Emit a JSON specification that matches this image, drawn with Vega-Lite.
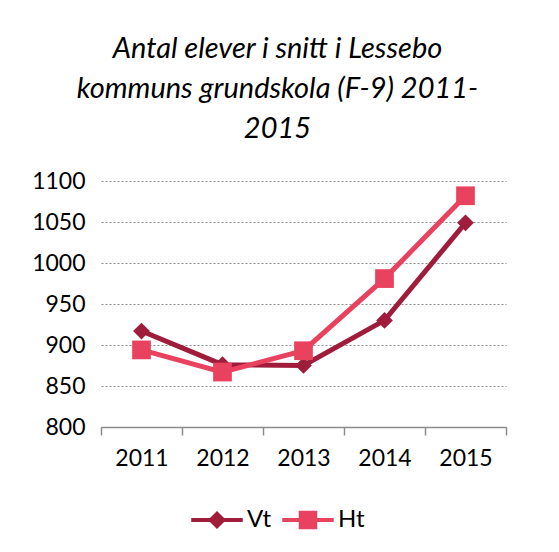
{
  "$schema": "https://vega.github.io/schema/vega-lite/v6.json",
  "width": 405,
  "height": 246,
  "autosize": {"type": "none"},
  "padding": {"left": 101, "top": 181, "right": 53, "bottom": 125},
  "background": "white",
  "config": {"view": {"stroke": null}},
  "title": {
    "text": ["Antal elever i snitt i Lessebo", "kommuns grundskola (F-9) 2011-", "2015"],
    "font": "Lato",
    "fontStyle": "italic",
    "fontWeight": "normal",
    "fontSize": 29,
    "lineHeight": 40,
    "color": "#000000",
    "anchor": "middle",
    "dx": -26,
    "offset": 26
  },
  "data": {
    "values": [
      {"year": "2011", "series": "Vt", "value": 917},
      {"year": "2012", "series": "Vt", "value": 876},
      {"year": "2013", "series": "Vt", "value": 875},
      {"year": "2014", "series": "Vt", "value": 930},
      {"year": "2015", "series": "Vt", "value": 1049},
      {"year": "2011", "series": "Ht", "value": 894},
      {"year": "2012", "series": "Ht", "value": 867},
      {"year": "2013", "series": "Ht", "value": 893},
      {"year": "2014", "series": "Ht", "value": 981},
      {"year": "2015", "series": "Ht", "value": 1082}
    ]
  },
  "encoding": {
    "x": {
      "field": "year",
      "type": "ordinal",
      "scale": {"type": "band", "paddingInner": 0, "paddingOuter": 0},
      "axis": {
        "title": null,
        "labelAngle": 0,
        "labelFont": "Lato",
        "labelFontSize": 23,
        "labelColor": "#000000",
        "labelPadding": 12,
        "tickBand": "extent",
        "tickSize": 8,
        "tickColor": "#8c8c8c",
        "tickWidth": 1.5,
        "domainColor": "#8c8c8c",
        "domainWidth": 1.5,
        "grid": false
      }
    },
    "y": {
      "field": "value",
      "type": "quantitative",
      "scale": {"domain": [800, 1100], "nice": false, "zero": false},
      "axis": {
        "title": null,
        "values": [800, 850, 900, 950, 1000, 1050, 1100],
        "format": "d",
        "labelFont": "Lato",
        "labelFontSize": 23,
        "labelColor": "#000000",
        "labelPadding": 16,
        "ticks": false,
        "domain": false,
        "grid": true,
        "gridColor": "#8c8c8c",
        "gridDash": [2, 2],
        "gridWidth": 1.2
      }
    },
    "color": {
      "field": "series",
      "type": "nominal",
      "scale": {"domain": ["Vt", "Ht"], "range": ["#A01C3B", "#E8425F"]},
      "legend": {
        "orient": "none",
        "legendX": 90,
        "legendY": 313,
        "direction": "horizontal",
        "title": null,
        "padding": 0,
        "symbolSize": 2500,
        "labelFont": "Lato",
        "labelFontSize": 24,
        "labelColor": "#000000",
        "labelOffset": 4,
        "columnPadding": 8,
        "encode": {
          "symbols": {
            "update": {
              "shape": {"signal": "datum.value === 'Vt' ? 'M-1,-0.05L-0.27,-0.05L0,-0.32L0.27,-0.05L1,-0.05L1,0.05L0.27,0.05L0,0.32L-0.27,0.05L-1,0.05Z' : 'M-1,-0.05L-0.34,-0.05L-0.34,-0.34L0.34,-0.34L0.34,-0.05L1,-0.05L1,0.05L0.34,0.05L0.34,0.34L-0.34,0.34L-0.34,0.05L-1,0.05Z'"},
              "fill": {"signal": "datum.value === 'Vt' ? '#A01C3B' : '#E8425F'"},
              "stroke": {"value": "transparent"},
              "size": {"value": 2500},
              "opacity": {"value": 1}
            }
          }
        }
      }
    }
  },
  "layer": [
    {
      "mark": {"type": "line", "strokeWidth": 5}
    },
    {
      "transform": [{"filter": "datum.series === 'Vt'"}],
      "mark": {"type": "point", "filled": true, "opacity": 1, "shape": "diamond", "size": 280}
    },
    {
      "transform": [{"filter": "datum.series === 'Ht'"}],
      "mark": {"type": "point", "filled": true, "opacity": 1, "shape": "square", "size": 350}
    }
  ]
}
